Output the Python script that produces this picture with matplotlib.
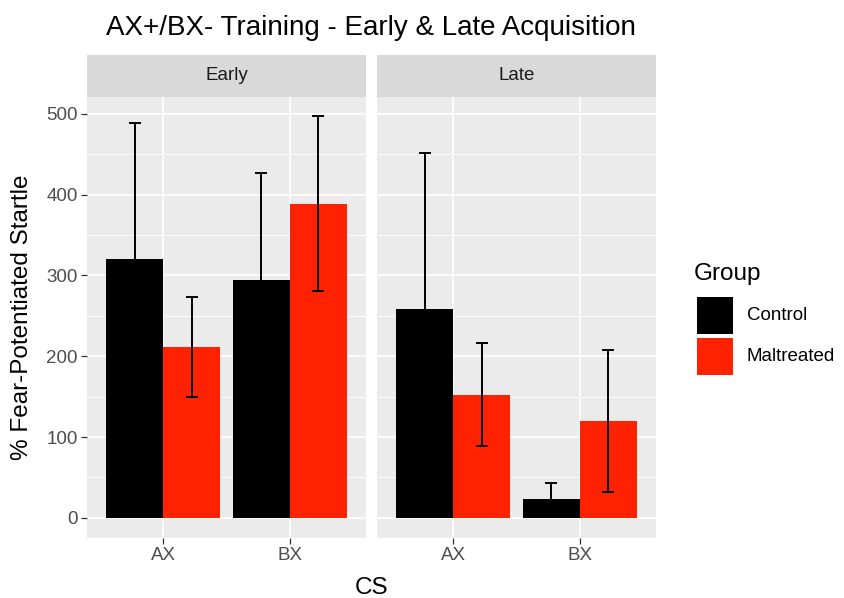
import matplotlib
matplotlib.use("Agg")
import matplotlib.pyplot as plt
from matplotlib.patches import Rectangle
import numpy as np

plt.rcParams['font.family'] = ['Liberation Sans', 'DejaVu Sans']

# ---- data ----
phases = ['Early', 'Late']
cs_labels = ['AX', 'BX']
groups = ['Control', 'Maltreated']
group_colors = ['#000000', '#FF2200']

early_control = [320, 295]
early_control_err = [169, 132]
early_maltreated = [211, 389]
early_maltreated_err = [62, 108]
late_control = [258, 23.5]
late_control_err = [194, 19.5]
late_maltreated = [152.5, 120]
late_maltreated_err = [64, 87.5]

yticks = [0, 100, 200, 300, 400, 500]
yminor = [50, 150, 250, 350, 450]

W, H = 845, 598
fig = plt.figure(figsize=(W / 100, H / 100), dpi=100)


def rect(x0, y0, x1, y1):
    return [x0 / W, 1 - y1 / H, (x1 - x0) / W, (y1 - y0) / H]


panel_data = {
    'Early': [(early_control, early_control_err), (early_maltreated, early_maltreated_err)],
    'Late': [(late_control, late_control_err), (late_maltreated, late_maltreated_err)],
}
panel_x = {'Early': (87, 366), 'Late': (377, 656)}
tick_col = '#4D4D4D'
small = 13.5
big = 17.5

for pi, ph in enumerate(phases):
    x0, x1 = panel_x[ph]
    ax = fig.add_axes(rect(x0, 97, x1, 538))
    ax.set_facecolor('#EBEBEB')
    for s in ax.spines.values():
        s.set_visible(False)
    x = np.arange(len(cs_labels)) + 1
    width = 0.45
    for gi, (vals, errs) in enumerate(panel_data[ph]):
        xpos = x + (gi - 0.5) * width
        ax.bar(xpos, vals, width=width, color=group_colors[gi], zorder=3)
        ax.errorbar(xpos, vals, yerr=errs, fmt='none', ecolor='black',
                    elinewidth=1.4, capsize=4.4, capthick=1.4, zorder=4)
    ax.set_xlim(0.4, 2.6)
    ax.set_ylim(-25, 521)
    ax.set_xticks(x)
    ax.set_xticklabels(cs_labels)
    ax.set_yticks(yticks)
    ax.set_yticks(yminor, minor=True)
    ax.grid(which='major', color='white', linewidth=1.2, zorder=0)
    ax.grid(which='minor', axis='y', color='white', linewidth=0.6, zorder=0)
    ax.set_axisbelow(True)
    ax.tick_params(axis='both', which='major', length=4, width=0.9, color='#333333',
                   labelsize=small, labelcolor=tick_col, pad=2.5)
    ax.tick_params(axis='y', which='minor', length=0)
    if pi > 0:
        ax.tick_params(axis='y', which='major', left=False, labelleft=False)
    # strip
    sax = fig.add_axes(rect(x0, 55, x1, 97))
    sax.set_facecolor('#D9D9D9')
    for s in sax.spines.values():
        s.set_visible(False)
    sax.set_xticks([])
    sax.set_yticks([])
    sax.text(0.5, 0.5, ph, ha='center', va='center', fontsize=small, color='#1A1A1A',
             transform=sax.transAxes)

fig.text(371 / W, 1 - 28 / H, 'AX+/BX- Training - Early & Late Acquisition',
         ha='center', va='center', fontsize=20, color='black')
fig.text(22 / W, 1 - 317 / H, '% Fear-Potentiated Startle', rotation=90,
         ha='center', va='center', fontsize=big, color='black')
fig.text(372 / W, 1 - 588 / H, 'CS', ha='center', va='center', fontsize=big, color='black')

# legend
fig.text(694 / W, 1 - 274 / H, 'Group', ha='left', va='center', fontsize=big, color='black')
key_tops = [296.5, 337.5]
for gi, g in enumerate(groups):
    top = key_tops[gi]
    fig.add_artist(Rectangle((697 / W, 1 - (top + 37.5) / H), 36.5 / W, 37.5 / H,
                             transform=fig.transFigure, facecolor=group_colors[gi],
                             edgecolor='none'))
    fig.text(747 / W, 1 - (top + 19) / H, g, ha='left', va='center', fontsize=small,
             color='black')

fig.savefig('out.png', dpi=100)
